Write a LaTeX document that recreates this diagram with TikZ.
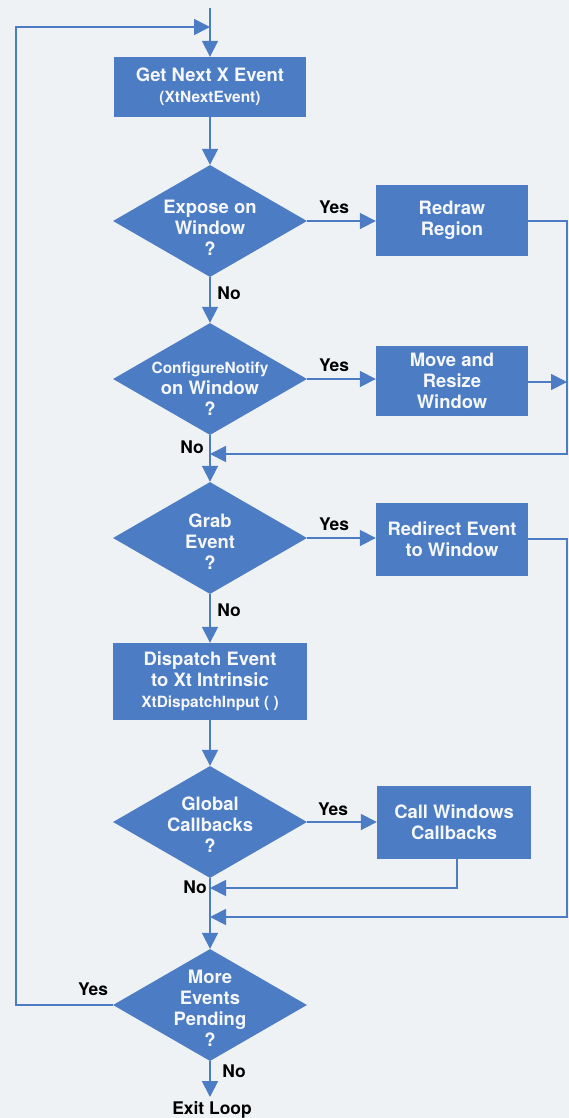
\documentclass[tikz,border=0pt]{standalone}
\usepackage{fontspec}
\setmainfont{TeX Gyre Heros}
\usetikzlibrary{arrows.meta,shapes.geometric}

\definecolor{flowblue}{RGB}{76,124,196}
\definecolor{paper}{RGB}{239,242,245}
\definecolor{boxtext}{RGB}{245,247,250}

\newcommand\subline{\fontsize{15.5}{21}\selectfont}

\begin{document}
\begin{tikzpicture}[x=1bp,y=-1bp,
  proc/.style={fill=flowblue, text=boxtext, align=center, inner sep=0pt,
    font=\bfseries\fontsize{18.5}{21}\selectfont},
  decision/.style={shape=diamond, fill=flowblue, inner sep=0pt,
    minimum width=194bp, minimum height=112bp},
  dtext/.style={text=boxtext, align=center, inner sep=0pt,
    font=\bfseries\fontsize{18.5}{21}\selectfont},
  answer/.style={text=black, inner sep=0pt,
    font=\bfseries\fontsize{17.5}{21}\selectfont},
  wire/.style={draw=flowblue, line width=1.8bp},
  flow/.style={wire, -{Triangle[length=16bp,width=16bp]}}
]
% page
\fill[paper] (0,0) rectangle (569,1118);
\useasboundingbox (0,0) rectangle (569,1118);

% process boxes
\node[proc, minimum width=192bp, minimum height=60bp] (next) at (210,87)
  {Get Next X Event\\{\subline (XtNextEvent)}};
\node[proc, minimum width=152bp, minimum height=71bp] (redraw) at (452,220.5)
  {Redraw\\Region};
\node[proc, minimum width=152bp, minimum height=70bp] (move) at (452,381)
  {Move and\\Resize\\Window};
\node[proc, minimum width=152bp, minimum height=73bp] (redirect) at (452,539.5)
  {Redirect Event\\to Window};
\node[proc, minimum width=194bp, minimum height=77bp] (dispatch) at (210,681.5)
  {Dispatch Event\\to Xt Intrinsic\\{\subline XtDispatchInput ( )}};
\node[proc, minimum width=154bp, minimum height=73bp] (call) at (454,822.5)
  {Call Windows\\Callbacks};

% decisions
\node[decision] (expose) at (210,221) {};
\node[dtext] (exposet) at (210,228) {Expose on\\Window\\?};
\node[decision] (configure) at (210,379) {};
\node[dtext] (configuret) at (210,389) {{\subline ConfigureNotify}\\on Window\\?};
\node[decision] (grab) at (210,538) {};
\node[dtext] (grabt) at (210,542) {Grab\\Event\\?};
\node[decision] (global) at (210,822) {};
\node[dtext] (globalt) at (210,825) {Global\\Callbacks\\?};
\node[decision] (more) at (210,1005) {};
\node[dtext] (moret) at (210,1008.5) {More\\Events\\Pending\\?};

% branch labels
\node[answer] (y1) at (334,207) {Yes};
\node[answer] (y2) at (334,365) {Yes};
\node[answer] (y3) at (334,524) {Yes};
\node[answer] (y4) at (333,809) {Yes};
\node[answer] (y5) at (93,989) {Yes};
\node[answer] (n1) at (229,293) {No};
\node[answer] (n2) at (192,447) {No};
\node[answer] (n3) at (229,610) {No};
\node[answer] (n4) at (195,887) {No};
\node[answer] (n5) at (234,1071) {No};
\node[answer] (exitt) at (212,1110) {Exit Loop};

% junction points
\coordinate (entry) at (210,8);
\coordinate (loopjoin) at (210,27);
\coordinate (loopcorner) at (16,27);
\coordinate (r1) at (567,221);
\coordinate (r2) at (567,454);
\coordinate (j1) at (210,454);
\coordinate (r3) at (567,382);
\coordinate (r4) at (567,539);
\coordinate (r5) at (567,917);
\coordinate (j3) at (210,917);
\coordinate (c1) at (457,859);
\coordinate (j2) at (210,888);
\coordinate (exit) at (210,1097);

% main column
\draw[flow] (entry) -- (next.north);
\draw[flow] (next.south) -- (expose.north);
\draw[flow] (expose.south) -- (configure.north);
\draw[flow] (configure.south) -- (grab.north);
\draw[flow] (grab.south) -- (dispatch.north);
\draw[flow] (dispatch.south) -- (global.north);
\draw[flow] (global.south) -- (more.north);
\draw[flow] (more.south) -- (exit);

% yes branches
\draw[flow] (expose.east) -- (expose.east -| redraw.west);
\draw[flow] (configure.east) -- (configure.east -| move.west);
\draw[flow] (grab.east) -- (grab.east -| redirect.west);
\draw[flow] (global.east) -- (global.east -| call.west);

% returns to the main column
\draw[flow] (redraw.east |- r1) -- (r1) -- (r2) -- (j1);
\draw[flow] (move.east |- r3) -- (r3);
\draw[flow] (redirect.east |- r4) -- (r4) -- (r5) -- (j3);
\draw[flow] (c1) |- (j2);

% loop back to the top
\draw[flow] (more.west) -| (loopcorner) -- (loopjoin);
\end{tikzpicture}
\end{document}
